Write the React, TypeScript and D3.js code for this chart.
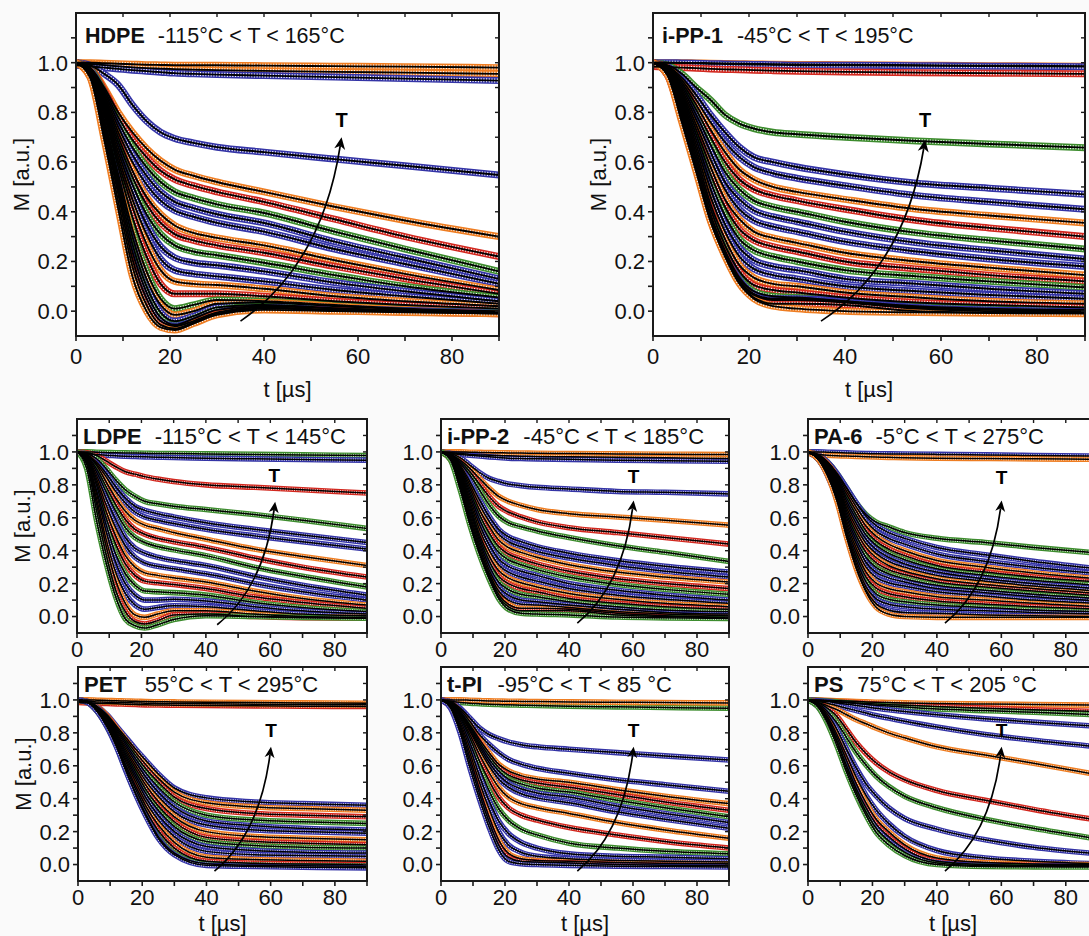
import React from "react";
import * as d3 from "d3";

const tGrid = [0, 3, 6, 9, 12, 15, 18, 21, 25, 30, 40, 55, 70, 90];

const xTickLabels = [0, 20, 40, 60, 80];
const xTicks = [0, 10, 20, 30, 40, 50, 60, 70, 80, 90];
const yTickLabels = [0, 0.2, 0.4, 0.6, 0.8, 1.0];
const yTicks = [0, 0.1, 0.2, 0.3, 0.4, 0.5, 0.6, 0.7, 0.8, 0.9, 1.0, 1.1];

const palette: Record<string, string> = {
  o: "#ee7d22",
  r: "#d2281f",
  g: "#3d8c2e",
  b: "#3434a6",
};

// ---- HDPE ----
const hdpeColors = "oobborgbborgbborgobgbro";
const hdpeCurves = [
  [1.0, 1.0, 0.998, 0.996, 0.994, 0.992, 0.991, 0.99, 0.99, 0.99, 0.988, 0.986, 0.984, 0.98],
  [1.0, 0.995, 0.99, 0.985, 0.981, 0.978, 0.976, 0.974, 0.972, 0.97, 0.967, 0.963, 0.96, 0.955],
  [0.99, 0.985, 0.98, 0.975, 0.97, 0.966, 0.962, 0.958, 0.955, 0.952, 0.948, 0.942, 0.936, 0.928],
  [1.0, 0.99, 0.955, 0.91, 0.83, 0.765, 0.72, 0.695, 0.677, 0.66, 0.64, 0.612, 0.585, 0.548],
  [1.0, 0.98, 0.9, 0.8, 0.72, 0.655, 0.605, 0.57, 0.545, 0.52, 0.48, 0.42, 0.365, 0.3],
  [1.0, 0.978, 0.89, 0.78, 0.69, 0.62, 0.565, 0.53, 0.505, 0.48, 0.44, 0.37, 0.3, 0.22],
  [1.0, 0.975, 0.88, 0.76, 0.66, 0.58, 0.52, 0.48, 0.455, 0.43, 0.395, 0.32, 0.25, 0.16],
  [1.0, 0.972, 0.87, 0.74, 0.63, 0.545, 0.48, 0.44, 0.415, 0.39, 0.355, 0.28, 0.215, 0.13],
  [1.0, 0.97, 0.86, 0.72, 0.6, 0.51, 0.445, 0.405, 0.38, 0.355, 0.32, 0.25, 0.19, 0.11],
  [1.0, 0.968, 0.85, 0.7, 0.565, 0.46, 0.39, 0.345, 0.315, 0.295, 0.265, 0.205, 0.15, 0.085],
  [1.0, 0.966, 0.84, 0.68, 0.54, 0.43, 0.355, 0.31, 0.285, 0.265, 0.235, 0.18, 0.13, 0.07],
  [1.0, 0.964, 0.83, 0.66, 0.51, 0.39, 0.31, 0.265, 0.24, 0.225, 0.195, 0.145, 0.1, 0.055],
  [1.0, 0.962, 0.82, 0.64, 0.48, 0.35, 0.26, 0.215, 0.195, 0.185, 0.16, 0.115, 0.08, 0.04],
  [1.0, 0.96, 0.81, 0.62, 0.45, 0.31, 0.21, 0.165, 0.15, 0.14, 0.12, 0.085, 0.06, 0.03],
  [1.0, 0.958, 0.8, 0.6, 0.42, 0.27, 0.165, 0.12, 0.11, 0.105, 0.09, 0.06, 0.04, 0.02],
  [1.0, 0.955, 0.79, 0.58, 0.38, 0.22, 0.11, 0.07, 0.07, 0.07, 0.06, 0.04, 0.025, 0.01],
  [1.0, 0.952, 0.77, 0.55, 0.33, 0.16, 0.05, 0.01, 0.025, 0.045, 0.04, 0.025, 0.01, 0.0],
  [1.0, 0.951, 0.76, 0.53, 0.3, 0.13, 0.025, -0.015, 0.0, 0.03, 0.035, 0.02, 0.007, -0.002],
  [1.0, 0.95, 0.75, 0.51, 0.27, 0.1, -0.005, -0.04, -0.02, 0.015, 0.025, 0.012, 0.003, -0.005],
  [1.0, 0.948, 0.74, 0.49, 0.24, 0.075, -0.025, -0.055, -0.03, 0.005, 0.02, 0.01, 0.0, -0.006],
  [1.0, 0.947, 0.73, 0.47, 0.21, 0.05, -0.04, -0.06, -0.04, -0.005, 0.015, 0.005, 0.0, -0.008],
  [1.0, 0.944, 0.71, 0.44, 0.18, 0.025, -0.055, -0.07, -0.045, -0.01, 0.01, 0.003, -0.003, -0.01],
  [1.0, 0.94, 0.69, 0.41, 0.14, 0.0, -0.065, -0.076, -0.05, -0.015, 0.005, 0.0, -0.005, -0.01],
];

// ---- i-PP-1 ----
const ipp1Colors = "obrgbborgbborgbborgbbro";
const ipp1Curves = [
  [1.0, 1.0, 1.0, 0.999, 0.998, 0.997, 0.996, 0.995, 0.994, 0.993, 0.992, 0.99, 0.988, 0.986],
  [1.0, 1.0, 0.999, 0.998, 0.996, 0.995, 0.994, 0.993, 0.992, 0.99, 0.99, 0.988, 0.986, 0.984],
  [0.985, 0.982, 0.98, 0.978, 0.975, 0.973, 0.972, 0.97, 0.968, 0.966, 0.963, 0.96, 0.958, 0.955],
  [1.0, 0.99, 0.955, 0.9, 0.85, 0.79, 0.755, 0.735, 0.72, 0.712, 0.7, 0.685, 0.673, 0.658],
  [1.0, 0.985, 0.94, 0.87, 0.79, 0.72, 0.66, 0.62, 0.6, 0.58, 0.55, 0.515, 0.495, 0.47],
  [1.0, 0.983, 0.93, 0.85, 0.76, 0.68, 0.62, 0.58, 0.555, 0.535, 0.505, 0.465, 0.44, 0.41],
  [1.0, 0.98, 0.92, 0.83, 0.73, 0.64, 0.57, 0.53, 0.5, 0.48, 0.45, 0.41, 0.385, 0.355],
  [1.0, 0.978, 0.91, 0.81, 0.7, 0.6, 0.53, 0.49, 0.465, 0.445, 0.41, 0.365, 0.335, 0.3],
  [1.0, 0.975, 0.9, 0.79, 0.67, 0.56, 0.49, 0.445, 0.42, 0.4, 0.36, 0.315, 0.285, 0.25],
  [1.0, 0.972, 0.89, 0.77, 0.64, 0.52, 0.45, 0.405, 0.38, 0.36, 0.32, 0.275, 0.245, 0.21],
  [1.0, 0.97, 0.88, 0.75, 0.61, 0.49, 0.41, 0.365, 0.34, 0.32, 0.28, 0.24, 0.21, 0.18],
  [1.0, 0.968, 0.87, 0.73, 0.58, 0.45, 0.37, 0.32, 0.295, 0.275, 0.235, 0.2, 0.175, 0.145],
  [1.0, 0.966, 0.86, 0.71, 0.55, 0.42, 0.33, 0.285, 0.26, 0.24, 0.2, 0.17, 0.145, 0.12],
  [1.0, 0.964, 0.85, 0.69, 0.52, 0.385, 0.29, 0.245, 0.22, 0.2, 0.165, 0.14, 0.12, 0.095],
  [1.0, 0.962, 0.84, 0.67, 0.49, 0.35, 0.255, 0.205, 0.18, 0.165, 0.13, 0.11, 0.09, 0.07],
  [1.0, 0.96, 0.83, 0.65, 0.46, 0.32, 0.22, 0.17, 0.145, 0.13, 0.1, 0.08, 0.065, 0.05],
  [1.0, 0.958, 0.82, 0.63, 0.43, 0.29, 0.185, 0.135, 0.11, 0.1, 0.075, 0.055, 0.04, 0.03],
  [1.0, 0.956, 0.81, 0.61, 0.41, 0.265, 0.16, 0.105, 0.085, 0.075, 0.055, 0.035, 0.025, 0.015],
  [1.0, 0.954, 0.795, 0.59, 0.39, 0.245, 0.135, 0.08, 0.06, 0.055, 0.04, 0.02, 0.01, 0.005],
  [1.0, 0.953, 0.79, 0.585, 0.38, 0.235, 0.125, 0.07, 0.05, 0.05, 0.04, 0.015, 0.005, 0.0],
  [1.0, 0.952, 0.78, 0.58, 0.375, 0.23, 0.12, 0.065, 0.045, 0.045, 0.035, 0.01, 0.0, -0.005],
  [1.0, 0.951, 0.77, 0.57, 0.365, 0.225, 0.115, 0.055, 0.03, 0.03, 0.025, 0.0, -0.005, -0.008],
  [1.0, 0.95, 0.76, 0.56, 0.36, 0.22, 0.11, 0.05, 0.02, 0.01, 0.0, -0.005, -0.008, -0.01],
];

// ---- LDPE ----
const ldpeColors = "gbrgbborgbborgbborg";
const ldpeCurves = [
  [1.0, 1.0, 0.998, 0.996, 0.995, 0.994, 0.993, 0.992, 0.99, 0.99, 0.988, 0.985, 0.982, 0.978],
  [0.995, 0.99, 0.985, 0.98, 0.977, 0.974, 0.972, 0.97, 0.968, 0.966, 0.962, 0.958, 0.954, 0.95],
  [1.0, 0.995, 0.98, 0.945, 0.91, 0.88, 0.865, 0.85, 0.835, 0.82, 0.8, 0.785, 0.77, 0.75],
  [1.0, 0.99, 0.96, 0.9, 0.83, 0.77, 0.73, 0.7, 0.685, 0.67, 0.65, 0.62, 0.585, 0.535],
  [1.0, 0.985, 0.94, 0.87, 0.79, 0.72, 0.67, 0.645, 0.625, 0.605, 0.57, 0.53, 0.495, 0.45],
  [1.0, 0.983, 0.93, 0.85, 0.76, 0.69, 0.635, 0.605, 0.585, 0.565, 0.53, 0.49, 0.455, 0.41],
  [1.0, 0.98, 0.92, 0.82, 0.72, 0.64, 0.585, 0.555, 0.535, 0.51, 0.47, 0.41, 0.365, 0.31],
  [1.0, 0.978, 0.9, 0.79, 0.68, 0.59, 0.53, 0.5, 0.475, 0.455, 0.42, 0.355, 0.3, 0.24],
  [1.0, 0.975, 0.88, 0.76, 0.64, 0.54, 0.48, 0.45, 0.425, 0.405, 0.37, 0.3, 0.245, 0.18],
  [1.0, 0.97, 0.86, 0.72, 0.59, 0.48, 0.415, 0.385, 0.36, 0.34, 0.31, 0.245, 0.19, 0.13],
  [1.0, 0.965, 0.84, 0.68, 0.54, 0.43, 0.36, 0.325, 0.305, 0.29, 0.26, 0.2, 0.15, 0.1],
  [1.0, 0.96, 0.82, 0.64, 0.49, 0.37, 0.3, 0.265, 0.25, 0.235, 0.21, 0.155, 0.11, 0.07],
  [1.0, 0.955, 0.8, 0.6, 0.44, 0.32, 0.25, 0.215, 0.205, 0.195, 0.17, 0.12, 0.085, 0.05],
  [1.0, 0.95, 0.77, 0.56, 0.38, 0.26, 0.19, 0.155, 0.15, 0.145, 0.13, 0.085, 0.055, 0.03],
  [1.0, 0.945, 0.75, 0.52, 0.33, 0.2, 0.13, 0.1, 0.1, 0.105, 0.095, 0.06, 0.035, 0.015],
  [1.0, 0.94, 0.72, 0.47, 0.27, 0.14, 0.07, 0.045, 0.055, 0.065, 0.06, 0.035, 0.015, 0.005],
  [1.0, 0.935, 0.69, 0.43, 0.22, 0.08, 0.01, -0.005, 0.015, 0.035, 0.035, 0.015, 0.0, -0.005],
  [1.0, 0.925, 0.65, 0.38, 0.16, 0.03, -0.03, -0.045, -0.025, 0.01, 0.015, 0.0, -0.007, -0.01],
  [1.0, 0.9, 0.59, 0.33, 0.12, -0.015, -0.055, -0.07, -0.05, -0.018, 0.005, 0.0, -0.005, -0.01],
];

// ---- i-PP-2 ----
const ipp2Colors = "oobborgbborgbborgbborg";
const ipp2Curves = [
  [1.0, 1.0, 1.0, 0.998, 0.997, 0.996, 0.995, 0.994, 0.993, 0.992, 0.99, 0.988, 0.986, 0.984],
  [1.0, 0.995, 0.99, 0.985, 0.982, 0.98, 0.978, 0.976, 0.974, 0.972, 0.97, 0.967, 0.964, 0.96],
  [0.995, 0.99, 0.985, 0.98, 0.975, 0.97, 0.966, 0.962, 0.96, 0.958, 0.955, 0.95, 0.947, 0.943],
  [1.0, 0.99, 0.965, 0.92, 0.875, 0.84, 0.82, 0.805, 0.795, 0.785, 0.775, 0.76, 0.755, 0.745],
  [1.0, 0.985, 0.95, 0.9, 0.84, 0.78, 0.73, 0.7, 0.675, 0.65, 0.625, 0.605, 0.585, 0.555],
  [1.0, 0.985, 0.94, 0.88, 0.805, 0.73, 0.67, 0.635, 0.605, 0.575, 0.54, 0.51, 0.48, 0.44],
  [1.0, 0.983, 0.93, 0.86, 0.77, 0.68, 0.61, 0.57, 0.545, 0.52, 0.48, 0.43, 0.39, 0.335],
  [1.0, 0.98, 0.92, 0.82, 0.71, 0.61, 0.53, 0.485, 0.455, 0.425, 0.385, 0.34, 0.305, 0.27],
  [1.0, 0.978, 0.91, 0.8, 0.68, 0.58, 0.5, 0.455, 0.425, 0.395, 0.355, 0.31, 0.275, 0.24],
  [1.0, 0.976, 0.9, 0.78, 0.65, 0.55, 0.465, 0.42, 0.39, 0.36, 0.315, 0.27, 0.24, 0.21],
  [1.0, 0.974, 0.89, 0.76, 0.62, 0.51, 0.425, 0.38, 0.35, 0.32, 0.275, 0.23, 0.2, 0.17],
  [1.0, 0.972, 0.88, 0.74, 0.59, 0.475, 0.39, 0.345, 0.315, 0.285, 0.24, 0.195, 0.165, 0.135],
  [1.0, 0.97, 0.87, 0.72, 0.56, 0.44, 0.35, 0.305, 0.275, 0.25, 0.2, 0.16, 0.13, 0.1],
  [1.0, 0.968, 0.86, 0.7, 0.53, 0.405, 0.315, 0.27, 0.24, 0.215, 0.17, 0.13, 0.105, 0.08],
  [1.0, 0.966, 0.85, 0.68, 0.5, 0.37, 0.28, 0.235, 0.205, 0.18, 0.14, 0.105, 0.08, 0.06],
  [1.0, 0.964, 0.84, 0.66, 0.48, 0.34, 0.245, 0.2, 0.17, 0.15, 0.11, 0.08, 0.06, 0.045],
  [1.0, 0.962, 0.83, 0.64, 0.46, 0.31, 0.21, 0.165, 0.135, 0.12, 0.09, 0.06, 0.04, 0.03],
  [1.0, 0.96, 0.82, 0.62, 0.44, 0.285, 0.18, 0.13, 0.1, 0.09, 0.07, 0.045, 0.025, 0.015],
  [1.0, 0.958, 0.81, 0.6, 0.42, 0.265, 0.155, 0.1, 0.075, 0.07, 0.055, 0.03, 0.015, 0.005],
  [1.0, 0.956, 0.8, 0.58, 0.4, 0.25, 0.135, 0.075, 0.05, 0.05, 0.045, 0.02, 0.005, -0.005],
  [1.0, 0.954, 0.79, 0.57, 0.39, 0.24, 0.12, 0.06, 0.035, 0.035, 0.035, 0.01, 0.0, -0.008],
  [1.0, 0.95, 0.77, 0.56, 0.38, 0.23, 0.11, 0.045, 0.02, 0.015, 0.01, -0.003, -0.008, -0.012],
];

// ---- PA-6 ----
const pa6Colors = "bogbborgbborgbborgbbo";
const pa6Curves = [
  [1.0, 1.0, 0.998, 0.996, 0.994, 0.992, 0.99, 0.989, 0.988, 0.987, 0.985, 0.982, 0.978, 0.975],
  [0.99, 0.985, 0.98, 0.977, 0.975, 0.973, 0.971, 0.969, 0.967, 0.965, 0.962, 0.96, 0.958, 0.955],
  [1.0, 0.985, 0.94, 0.87, 0.78, 0.69, 0.62, 0.575, 0.545, 0.51, 0.475, 0.45, 0.42, 0.385],
  [1.0, 0.985, 0.94, 0.87, 0.78, 0.69, 0.61, 0.555, 0.51, 0.475, 0.42, 0.375, 0.335, 0.29],
  [1.0, 0.983, 0.935, 0.86, 0.76, 0.665, 0.58, 0.52, 0.475, 0.44, 0.38, 0.335, 0.3, 0.26],
  [1.0, 0.981, 0.93, 0.85, 0.74, 0.64, 0.55, 0.49, 0.44, 0.4, 0.34, 0.3, 0.265, 0.23],
  [1.0, 0.979, 0.925, 0.84, 0.72, 0.615, 0.52, 0.46, 0.41, 0.37, 0.31, 0.27, 0.24, 0.21],
  [1.0, 0.977, 0.92, 0.83, 0.7, 0.59, 0.495, 0.435, 0.385, 0.345, 0.29, 0.25, 0.22, 0.19],
  [1.0, 0.975, 0.915, 0.82, 0.68, 0.565, 0.47, 0.41, 0.36, 0.32, 0.27, 0.23, 0.2, 0.17],
  [1.0, 0.973, 0.91, 0.81, 0.66, 0.54, 0.445, 0.385, 0.335, 0.3, 0.25, 0.215, 0.185, 0.155],
  [1.0, 0.971, 0.905, 0.8, 0.64, 0.515, 0.42, 0.36, 0.31, 0.275, 0.23, 0.195, 0.17, 0.14],
  [1.0, 0.969, 0.9, 0.79, 0.62, 0.49, 0.39, 0.33, 0.285, 0.255, 0.21, 0.18, 0.155, 0.125],
  [1.0, 0.967, 0.895, 0.78, 0.6, 0.465, 0.36, 0.3, 0.26, 0.23, 0.19, 0.16, 0.135, 0.11],
  [1.0, 0.965, 0.89, 0.77, 0.58, 0.44, 0.33, 0.27, 0.235, 0.21, 0.17, 0.145, 0.12, 0.095],
  [1.0, 0.963, 0.885, 0.76, 0.56, 0.415, 0.3, 0.24, 0.205, 0.185, 0.15, 0.125, 0.1, 0.08],
  [1.0, 0.961, 0.88, 0.75, 0.54, 0.39, 0.27, 0.205, 0.17, 0.15, 0.12, 0.1, 0.08, 0.06],
  [1.0, 0.96, 0.875, 0.74, 0.52, 0.365, 0.24, 0.175, 0.14, 0.12, 0.095, 0.075, 0.06, 0.045],
  [1.0, 0.96, 0.87, 0.73, 0.51, 0.34, 0.21, 0.14, 0.105, 0.09, 0.07, 0.055, 0.04, 0.03],
  [1.0, 0.96, 0.865, 0.72, 0.5, 0.32, 0.18, 0.11, 0.075, 0.06, 0.045, 0.035, 0.025, 0.015],
  [1.0, 0.96, 0.86, 0.71, 0.49, 0.3, 0.16, 0.08, 0.04, 0.025, 0.02, 0.01, 0.005, 0.0],
  [1.0, 0.96, 0.86, 0.7, 0.48, 0.29, 0.15, 0.06, 0.015, 0.0, -0.005, -0.005, -0.005, -0.005],
];

// ---- PET ----
const petColors = "rooborgbborgbborgb";
const petCurves = [
  [0.985, 0.982, 0.98, 0.978, 0.976, 0.974, 0.972, 0.97, 0.969, 0.968, 0.966, 0.964, 0.962, 0.96],
  [1.0, 1.0, 0.998, 0.996, 0.995, 0.993, 0.992, 0.99, 0.989, 0.988, 0.986, 0.984, 0.982, 0.98],
  [0.99, 0.99, 0.988, 0.986, 0.985, 0.983, 0.982, 0.98, 0.979, 0.978, 0.976, 0.974, 0.972, 0.97],
  [1.0, 0.99, 0.96, 0.91, 0.84, 0.77, 0.7, 0.635, 0.55, 0.465, 0.405, 0.38, 0.37, 0.36],
  [1.0, 0.99, 0.958, 0.905, 0.83, 0.755, 0.68, 0.61, 0.525, 0.44, 0.375, 0.35, 0.34, 0.33],
  [1.0, 0.99, 0.955, 0.9, 0.82, 0.74, 0.66, 0.585, 0.5, 0.41, 0.34, 0.31, 0.3, 0.29],
  [1.0, 0.99, 0.952, 0.895, 0.81, 0.725, 0.64, 0.56, 0.47, 0.38, 0.3, 0.27, 0.26, 0.25],
  [1.0, 0.989, 0.95, 0.89, 0.8, 0.71, 0.62, 0.535, 0.44, 0.35, 0.265, 0.235, 0.22, 0.21],
  [1.0, 0.989, 0.948, 0.885, 0.79, 0.695, 0.6, 0.51, 0.415, 0.32, 0.24, 0.21, 0.2, 0.19],
  [1.0, 0.988, 0.945, 0.875, 0.78, 0.68, 0.58, 0.485, 0.385, 0.29, 0.2, 0.17, 0.16, 0.15],
  [1.0, 0.988, 0.942, 0.865, 0.77, 0.665, 0.56, 0.46, 0.355, 0.26, 0.165, 0.14, 0.13, 0.12],
  [1.0, 0.987, 0.94, 0.86, 0.76, 0.65, 0.54, 0.435, 0.33, 0.23, 0.14, 0.115, 0.105, 0.1],
  [1.0, 0.987, 0.938, 0.855, 0.75, 0.635, 0.52, 0.41, 0.3, 0.2, 0.11, 0.085, 0.075, 0.07],
  [1.0, 0.986, 0.936, 0.85, 0.74, 0.62, 0.5, 0.385, 0.27, 0.17, 0.08, 0.06, 0.055, 0.05],
  [1.0, 0.986, 0.934, 0.845, 0.73, 0.6, 0.475, 0.36, 0.24, 0.135, 0.045, 0.03, 0.025, 0.02],
  [1.0, 0.985, 0.932, 0.842, 0.725, 0.585, 0.455, 0.335, 0.205, 0.1, 0.02, 0.008, 0.003, 0.0],
  [1.0, 0.985, 0.93, 0.84, 0.72, 0.57, 0.43, 0.31, 0.17, 0.07, 0.005, -0.005, -0.008, -0.01],
  [1.0, 0.985, 0.93, 0.838, 0.715, 0.565, 0.425, 0.3, 0.16, 0.06, -0.005, -0.012, -0.016, -0.02],
];

// ---- t-PI ----
const tpiColors = "gobborgbborgbborb";
const tpiCurves = [
  [0.995, 0.99, 0.985, 0.98, 0.977, 0.974, 0.972, 0.97, 0.968, 0.966, 0.962, 0.958, 0.954, 0.95],
  [1.0, 1.0, 1.0, 0.998, 0.996, 0.994, 0.993, 0.992, 0.991, 0.99, 0.988, 0.986, 0.984, 0.982],
  [1.0, 0.99, 0.95, 0.89, 0.83, 0.79, 0.765, 0.745, 0.728, 0.715, 0.7, 0.68, 0.66, 0.635],
  [1.0, 0.985, 0.94, 0.87, 0.79, 0.73, 0.68, 0.64, 0.61, 0.585, 0.555, 0.515, 0.485, 0.445],
  [1.0, 0.985, 0.93, 0.85, 0.76, 0.68, 0.61, 0.57, 0.54, 0.52, 0.5, 0.455, 0.415, 0.37],
  [1.0, 0.983, 0.925, 0.84, 0.745, 0.66, 0.59, 0.545, 0.515, 0.495, 0.47, 0.425, 0.38, 0.33],
  [1.0, 0.981, 0.92, 0.83, 0.73, 0.64, 0.57, 0.52, 0.49, 0.465, 0.44, 0.39, 0.345, 0.29],
  [1.0, 0.979, 0.915, 0.82, 0.715, 0.62, 0.545, 0.495, 0.46, 0.435, 0.41, 0.355, 0.31, 0.255],
  [1.0, 0.977, 0.91, 0.81, 0.7, 0.6, 0.52, 0.47, 0.43, 0.405, 0.375, 0.32, 0.275, 0.22],
  [1.0, 0.975, 0.9, 0.79, 0.67, 0.56, 0.47, 0.41, 0.37, 0.345, 0.31, 0.255, 0.21, 0.16],
  [1.0, 0.972, 0.89, 0.77, 0.63, 0.51, 0.41, 0.345, 0.3, 0.27, 0.225, 0.18, 0.14, 0.1],
  [1.0, 0.968, 0.875, 0.74, 0.59, 0.45, 0.34, 0.27, 0.215, 0.18, 0.13, 0.1, 0.08, 0.065],
  [1.0, 0.964, 0.86, 0.71, 0.54, 0.39, 0.265, 0.19, 0.135, 0.1, 0.065, 0.05, 0.045, 0.035],
  [1.0, 0.96, 0.845, 0.68, 0.5, 0.34, 0.2, 0.12, 0.075, 0.05, 0.035, 0.025, 0.02, 0.015],
  [1.0, 0.957, 0.83, 0.65, 0.46, 0.29, 0.15, 0.07, 0.035, 0.025, 0.02, 0.012, 0.008, 0.005],
  [1.0, 0.954, 0.815, 0.62, 0.43, 0.26, 0.12, 0.045, 0.02, 0.015, 0.01, 0.0, -0.005, -0.008],
  [1.0, 0.95, 0.8, 0.59, 0.4, 0.23, 0.09, 0.02, 0.005, 0.0, -0.005, -0.01, -0.012, -0.015],
];

// ---- PS ----
const psColors = "orgbborgbborbg";
const psCurves = [
  [1.0, 0.999, 0.997, 0.995, 0.993, 0.99, 0.988, 0.986, 0.984, 0.982, 0.978, 0.975, 0.972, 0.968],
  [1.0, 0.998, 0.995, 0.99, 0.986, 0.982, 0.978, 0.975, 0.971, 0.967, 0.96, 0.95, 0.94, 0.93],
  [1.0, 0.997, 0.993, 0.988, 0.983, 0.978, 0.973, 0.968, 0.963, 0.957, 0.945, 0.935, 0.925, 0.91],
  [1.0, 0.995, 0.99, 0.982, 0.974, 0.966, 0.958, 0.95, 0.94, 0.93, 0.91, 0.885, 0.865, 0.84],
  [1.0, 0.99, 0.98, 0.965, 0.95, 0.935, 0.92, 0.905, 0.89, 0.87, 0.835, 0.79, 0.755, 0.715],
  [1.0, 0.985, 0.965, 0.94, 0.91, 0.88, 0.855, 0.83, 0.8, 0.77, 0.715, 0.665, 0.615, 0.545],
  [1.0, 0.985, 0.95, 0.9, 0.82, 0.74, 0.675, 0.62, 0.565, 0.515, 0.45, 0.39, 0.335, 0.27],
  [1.0, 0.98, 0.93, 0.86, 0.77, 0.68, 0.605, 0.54, 0.475, 0.415, 0.345, 0.275, 0.22, 0.155],
  [1.0, 0.975, 0.915, 0.82, 0.7, 0.585, 0.49, 0.42, 0.345, 0.28, 0.215, 0.15, 0.105, 0.065],
  [1.0, 0.972, 0.9, 0.79, 0.66, 0.53, 0.42, 0.335, 0.25, 0.17, 0.085, 0.04, 0.02, 0.005],
  [1.0, 0.968, 0.89, 0.77, 0.63, 0.49, 0.375, 0.28, 0.2, 0.12, 0.04, 0.012, 0.004, 0.0],
  [1.0, 0.965, 0.88, 0.75, 0.6, 0.46, 0.345, 0.25, 0.17, 0.095, 0.02, 0.0, -0.005, -0.008],
  [1.0, 0.962, 0.87, 0.74, 0.58, 0.44, 0.32, 0.225, 0.145, 0.075, 0.01, -0.006, -0.009, -0.01],
  [1.0, 0.96, 0.86, 0.72, 0.56, 0.42, 0.3, 0.2, 0.12, 0.055, 0.0, -0.012, -0.014, -0.015],
];

// panel layout: [left, right, top, bottom] in px
const panels = [
  { id: "hdpe", name: "HDPE", range: "-115°C < T < 165°C", gap: 13, curves: hdpeCurves, colors: hdpeColors,
    box: [76, 499, 13, 336], big: true, yLabel: true, xLabel: true, arrow: [35, -0.04, 56.5, 0.7], tLabel: [56.5, 0.742] },
  { id: "ipp1", name: "i-PP-1", range: "-45°C < T < 195°C", gap: 14, curves: ipp1Curves, colors: ipp1Colors,
    box: [653, 1085, 13, 336], big: true, yLabel: true, xLabel: true, arrow: [35, -0.04, 56.7, 0.69], tLabel: [56.7, 0.742] },
  { id: "ldpe", name: "LDPE", range: "-115°C < T < 145°C", gap: 13, curves: ldpeCurves, colors: ldpeColors,
    box: [77, 367, 419, 633], big: false, yLabel: true, xLabel: false, arrow: [43.5, -0.05, 61.5, 0.697], tLabel: [61.2, 0.819] },
  { id: "ipp2", name: "i-PP-2", range: "-45°C < T < 185°C", gap: 14, curves: ipp2Curves, colors: ipp2Colors,
    box: [441, 729, 419, 633], big: false, yLabel: false, xLabel: false, arrow: [42.6, -0.04, 60.2, 0.705], tLabel: [60.2, 0.81] },
  { id: "pa6", name: "PA-6", range: "-5°C < T < 275°C", gap: 13, curves: pa6Curves, colors: pa6Colors,
    box: [808, 1098, 419, 633], big: false, yLabel: false, xLabel: false, arrow: [42.5, -0.04, 60.1, 0.705], tLabel: [60.1, 0.805] },
  { id: "pet", name: "PET", range: "55°C < T < 295°C", gap: 18, curves: petCurves, colors: petColors,
    box: [78, 367, 667, 881], big: false, yLabel: true, xLabel: true, arrow: [42.5, -0.04, 60.1, 0.716], tLabel: [60.1, 0.775] },
  { id: "tpi", name: "t-PI", range: "-95°C < T < 85 °C", gap: 15, curves: tpiCurves, colors: tpiColors,
    box: [441, 729, 667, 881], big: false, yLabel: false, xLabel: true, arrow: [42.6, -0.04, 60.2, 0.716], tLabel: [60.2, 0.773] },
  { id: "ps", name: "PS", range: "75°C < T < 205 °C", gap: 14, curves: psCurves, colors: psColors,
    box: [808, 1098, 667, 881], big: false, yLabel: false, xLabel: true, arrow: [42.5, -0.04, 60.1, 0.716], tLabel: [60.1, 0.773] },
];

const FONT = "'Liberation Sans', Arial, Helvetica, sans-serif";

function Panel({ p }: { p: any }) {
  const [left, right, top, bottom] = p.box;
  const x = d3.scaleLinear().domain([0, 90]).range([left, right]);
  const y = d3.scaleLinear().domain([-0.1, 1.2]).range([bottom, top]);
  const line = d3
    .line<number>()
    .x((_, i) => x(tGrid[i]))
    .y((v) => y(v))
    .curve(d3.curveMonotoneX);

  const bw = p.big ? 7 : 5.6; // ring band width
  const iw = p.big ? 4 : 3; // inner (hollow) width
  const lw = p.big ? 1.9 : 1.5; // fit line
  const dash = p.big ? "1.2 1.5" : "1 1.3";

  // arrow
  const [t0, v0, t1, v1] = p.arrow;
  const P0 = [x(t0), y(v0)];
  const P2 = [x(t1), y(v1)];
  const C = [x(t0 + 0.8 * (t1 - t0)), y(v0 + 0.3 * (v1 - v0))];
  let dx = P2[0] - C[0];
  let dy = P2[1] - C[1];
  const dl = Math.hypot(dx, dy);
  dx /= dl;
  dy /= dl;
  const hl = p.big ? 12 : 11;
  const hw = p.big ? 5.5 : 5;
  const base = [P2[0] - dx * hl, P2[1] - dy * hl];
  const notch = [P2[0] - dx * hl * 0.72, P2[1] - dy * hl * 0.72];
  const head = [
    P2,
    [base[0] - dy * hw, base[1] + dx * hw],
    notch,
    [base[0] + dy * hw, base[1] - dx * hw],
  ];
  const arrowPath = `M${P0[0]},${P0[1]} Q${C[0]},${C[1]} ${notch[0]},${notch[1]}`;

  const tickFont = 22;
  const titleY = top + (p.big ? 30 : 25);
  const titleX = left + (p.big ? 9 : 6);

  return (
    <g>
      <defs>
        <clipPath id={`clip-${p.id}`}>
          <rect x={left} y={top} width={right - left} height={bottom - top} />
        </clipPath>
      </defs>
      <rect x={left} y={top} width={right - left} height={bottom - top} fill="#fff" />
      <g clipPath={`url(#clip-${p.id})`}>
        {p.curves.map((c: number[], i: number) => (
          <g key={i}>
            <path d={line(c) || ""} fill="none" stroke={palette[p.colors[i]]} strokeWidth={bw} strokeLinecap="round" />
            <path d={line(c) || ""} fill="none" stroke="#ffffff" strokeWidth={iw} strokeDasharray={dash} />
          </g>
        ))}
        {p.curves.map((c: number[], i: number) => (
          <path key={"f" + i} d={line(c) || ""} fill="none" stroke="#000" strokeWidth={lw} />
        ))}
        <path d={arrowPath} fill="none" stroke="#000" strokeWidth={1.7} />
        <polygon points={head.map((q) => q.join(",")).join(" ")} fill="#000" />
      </g>
      <text
        x={x(p.tLabel[0])}
        y={y(p.tLabel[1])}
        textAnchor="middle"
        fontFamily={FONT}
        fontWeight="bold"
        fontSize={p.big ? 20 : 19}
      >
        T
      </text>
      {/* frame */}
      <rect x={left} y={top} width={right - left} height={bottom - top} fill="none" stroke="#1a1a1a" strokeWidth={2} />
      {/* ticks */}
      {xTicks.map((t) => (
        <g key={"xt" + t}>
          <line x1={x(t)} x2={x(t)} y1={bottom} y2={bottom + 5} stroke="#1a1a1a" strokeWidth={1.6} />
          <line x1={x(t)} x2={x(t)} y1={top} y2={top + 4} stroke="#1a1a1a" strokeWidth={1.4} />
        </g>
      ))}
      {yTicks.map((v) => (
        <g key={"yt" + v}>
          <line x1={left - 5} x2={left} y1={y(v)} y2={y(v)} stroke="#1a1a1a" strokeWidth={1.6} />
          <line x1={right - 4} x2={right} y1={y(v)} y2={y(v)} stroke="#1a1a1a" strokeWidth={1.4} />
        </g>
      ))}
      {xTickLabels.map((t) => (
        <text
          key={"xl" + t}
          x={x(t)}
          y={bottom + (p.big ? 28 : 24)}
          textAnchor="middle"
          fontFamily={FONT}
          fontSize={tickFont}
          fill="#111"
        >
          {t}
        </text>
      ))}
      {yTickLabels.map((v) => (
        <text
          key={"yl" + v}
          x={left - 8}
          y={y(v)}
          dy="0.36em"
          textAnchor="end"
          fontFamily={FONT}
          fontSize={tickFont}
          fill="#111"
        >
          {d3.format(".1f")(v)}
        </text>
      ))}
      <text x={titleX} y={titleY} fontFamily={FONT} fontSize={p.big ? 21.5 : 22} fill="#111">
        <tspan fontWeight="bold">{p.name}</tspan>
        <tspan dx={p.gap}>{p.range}</tspan>
      </text>
      {p.yLabel && (
        <text
          transform={`translate(${left - 55},${(top + bottom) / 2}) rotate(-90)`}
          textAnchor="middle"
          dy="0.36em"
          fontFamily={FONT}
          fontSize={22}
          fill="#111"
        >
          M [a.u.]
        </text>
      )}
      {p.xLabel && (
        <text
          x={(left + right) / 2}
          y={bottom + (p.big ? 61 : 50)}
          textAnchor="middle"
          fontFamily={FONT}
          fontSize={22}
          fill="#111"
        >
          t [µs]
        </text>
      )}
    </g>
  );
}

export default function App() {
  return (
    <div style={{ position: "absolute", left: 0, top: 0 }}>
      <svg width={1089} height={936} style={{ display: "block", background: "#fafafa" }}>
        {panels.map((p) => (
          <Panel key={p.id} p={p} />
        ))}
      </svg>
    </div>
  );
}
